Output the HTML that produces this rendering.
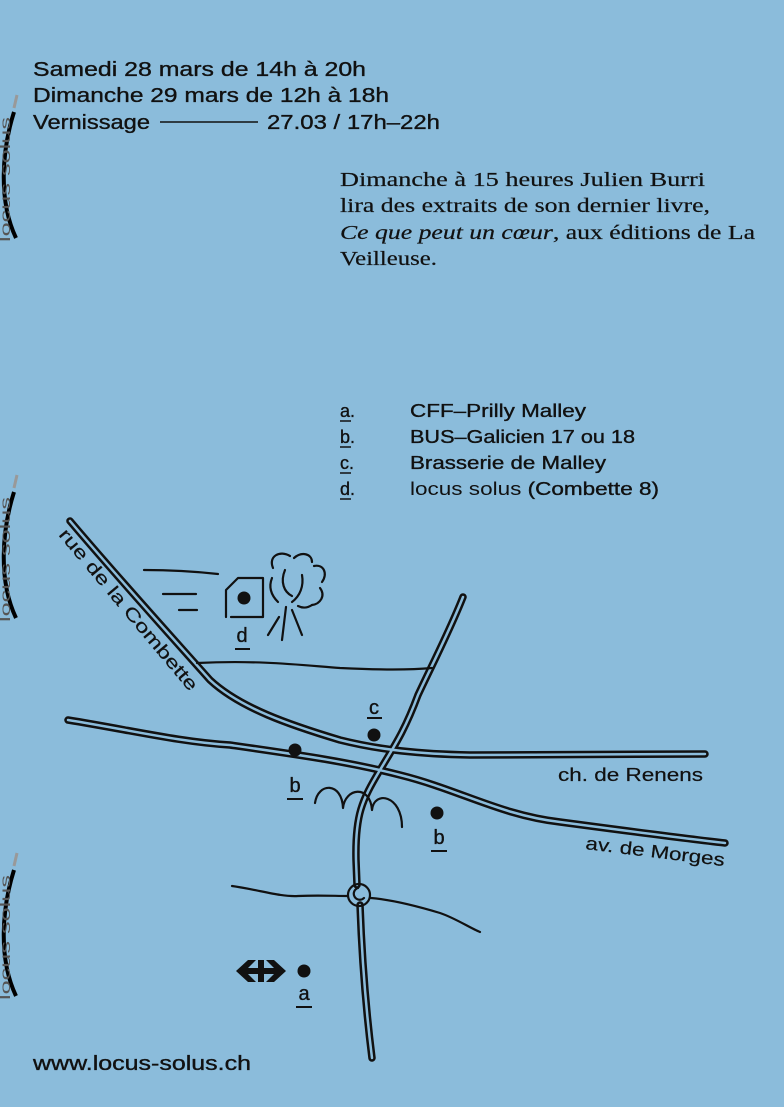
<!DOCTYPE html>
<html><head><meta charset="utf-8"><style>
html,body{margin:0;padding:0;background:#8bbcdb;}
svg{display:block}
.s{font-family:"Liberation Sans",sans-serif;fill:#111;stroke:#111;stroke-width:0.35;}
.r{font-family:"Liberation Serif",serif;fill:#111;stroke:#111;stroke-width:0.2;}
</style></head><body>
<svg width="784" height="1107" viewBox="0 0 784 1107" xmlns="http://www.w3.org/2000/svg">
<rect width="784" height="1107" fill="#8bbcdb"/>
<g>
 <g id="dec">
  <path d="M14 112 C2 150, -2 200, 16 238" stroke="#000" stroke-width="4" fill="none"/>
  <path d="M14 108 L17 95" stroke="#999" stroke-width="3"/>
  <text x="0" y="0" font-size="14" textLength="125" lengthAdjust="spacingAndGlyphs" transform="translate(10,242) rotate(-90)" style="font-family:'Liberation Sans',sans-serif;fill:#555">locus solus</text>
 </g>
 <use href="#dec" transform="translate(0,380)"/>
 <use href="#dec" transform="translate(0,758)"/>
</g>
<g class="s" font-size="20">
 <text x="33" y="76" textLength="333" lengthAdjust="spacingAndGlyphs">Samedi 28 mars de 14h à 20h</text>
 <text x="33" y="102" textLength="356" lengthAdjust="spacingAndGlyphs">Dimanche 29 mars de 12h à 18h</text>
 <text x="33" y="129" textLength="117" lengthAdjust="spacingAndGlyphs">Vernissage</text>
 <text x="267" y="129" textLength="173" lengthAdjust="spacingAndGlyphs">27.03 / 17h–22h</text>
</g>
<line x1="160" y1="122" x2="258" y2="122" stroke="#111" stroke-width="1.5"/>
<g class="r" font-size="20">
 <text x="340" y="186" textLength="365" lengthAdjust="spacingAndGlyphs">Dimanche à 15 heures Julien Burri</text>
 <text x="340" y="212" textLength="370" lengthAdjust="spacingAndGlyphs">lira des extraits de son dernier livre,</text>
 <text x="340" y="239" textLength="415" lengthAdjust="spacingAndGlyphs"><tspan font-style="italic">Ce que peut un cœur</tspan>, aux éditions de La</text>
 <text x="340" y="265" textLength="97" lengthAdjust="spacingAndGlyphs">Veilleuse.</text>
</g>
<g class="s" font-size="18">
 <text x="340" y="417">a.</text><text x="340" y="443">b.</text><text x="340" y="469">c.</text><text x="340" y="495">d.</text>
 <text x="410" y="417" textLength="176" lengthAdjust="spacingAndGlyphs">CFF–Prilly Malley</text>
 <text x="410" y="443" textLength="225" lengthAdjust="spacingAndGlyphs">BUS–Galicien 17 ou 18</text>
 <text x="410" y="469" textLength="196" lengthAdjust="spacingAndGlyphs">Brasserie de Malley</text>
 <text x="410" y="495" textLength="249" lengthAdjust="spacingAndGlyphs"><tspan style="stroke-width:0">locus solus</tspan> (Combette 8)</text>
</g>
<g stroke="#111" stroke-width="1.5">
 <line x1="340" y1="421" x2="351" y2="421"/><line x1="340" y1="447" x2="351" y2="447"/>
 <line x1="340" y1="473" x2="351" y2="473"/><line x1="340" y1="499" x2="351" y2="499"/>
</g>
<g fill="none" stroke-linecap="round" stroke-linejoin="round">
 <g stroke="#111" stroke-width="7.5">
  <path id="r1" d="M70 521 C120 580 170 635 210 680 C240 708 290 725 340 740 C380 750 420 754 470 755 L705 754"/>
  <path id="r2" d="M68 720 C130 730 180 742 230 745 C300 755 350 762 400 775 C460 790 500 815 560 822 C620 830 680 838 725 843"/>
  <path id="r3" d="M463 597 C450 630 432 665 418 695 C405 730 395 745 380 770 C362 800 355 815 356 860 L357 885"/>
  <path id="r4" d="M360 905 C362 960 366 1010 372 1058"/>
 </g>
 <g stroke="#8bbcdb" stroke-width="2.5">
  <use href="#r1"/><use href="#r2"/><use href="#r3"/><use href="#r4"/>
 </g>
 <g stroke="#111" stroke-width="2.2">
  <path d="M197 663 C260 660 300 665 340 668 C380 670 410 670 432 668"/>
  <path d="M232 886 C260 890 280 897 298 896 C320 895 335 896 347 896"/>
  <path d="M371 898 C395 900 420 907 440 913 C455 918 470 928 480 932"/>
  <circle cx="359" cy="895" r="11"/>
  <path d="M358 888 A6 6 0 1 0 364 898"/>
  <path d="M315 803 C318 782 342 782 343 808 C345 788 370 784 372 810 C374 790 402 795 402 827"/>
  <path d="M226 617 L226 590 L238 578 L263 578 L263 617 L231 617"/>
  <path d="M144 570 C170 570 200 572 218 574"/>
  <path d="M163 594 L196 594"/><path d="M179 610 L197 610"/>
  <path d="M273 568 C268 556 280 550 290 556"/>
  <path d="M272 578 C268 588 272 596 278 602"/>
  <path d="M285 570 C280 582 284 592 292 596"/>
  <path d="M294 558 C302 551 312 554 312 562"/>
  <path d="M302 575 C304 586 300 596 292 602"/>
  <path d="M314 566 C324 564 328 574 322 582"/>
  <path d="M320 588 C326 596 320 604 312 605"/>
  <path d="M298 606 C304 609 309 607 312 605"/>
  <path d="M286 607 L282 640"/><path d="M279 617 L268 635"/><path d="M292 610 L302 635"/>
 </g>
</g>
<g fill="#111">
 <circle cx="244" cy="598" r="6.5"/><circle cx="374" cy="735" r="6.5"/>
 <circle cx="295" cy="750" r="6.5"/><circle cx="437" cy="813" r="6.5"/>
 <circle cx="304" cy="971" r="6.5"/>
 <path d="M236 971 L248 960 L256 960 L248 968 L258 968 L258 960 L264 960 L264 968 L274 968 L266 960 L274 960 L286 971 L274 982 L266 982 L274 974 L264 974 L264 982 L258 982 L258 974 L248 974 L256 982 L248 982 Z"/>
</g>
<g class="s" font-size="20" text-anchor="middle">
 <text x="242" y="642">d</text><text x="374" y="714">c</text>
 <text x="295" y="792">b</text><text x="439" y="844">b</text><text x="304" y="1000">a</text>
</g>
<g stroke="#111" stroke-width="2">
 <line x1="235" y1="649" x2="250" y2="649"/><line x1="367" y1="718" x2="382" y2="718"/>
 <line x1="287" y1="799" x2="303" y2="799"/><line x1="431" y1="851" x2="447" y2="851"/>
 <line x1="296" y1="1007" x2="312" y2="1007"/>
</g>
<g class="s" font-size="18" style="stroke-width:0.2">
 <text x="558" y="781" textLength="145" lengthAdjust="spacingAndGlyphs">ch. de Renens</text>
 <text x="0" y="0" textLength="140" lengthAdjust="spacingAndGlyphs" transform="translate(585,849) rotate(7)">av. de Morges</text>
 <text x="0" y="0" textLength="205" lengthAdjust="spacingAndGlyphs" transform="translate(58,535) rotate(50)">rue de la Combette</text>
</g>
<text class="s" x="33" y="1070" font-size="20" textLength="218" lengthAdjust="spacingAndGlyphs">www.locus-solus.ch</text>
</svg>
</body></html>
